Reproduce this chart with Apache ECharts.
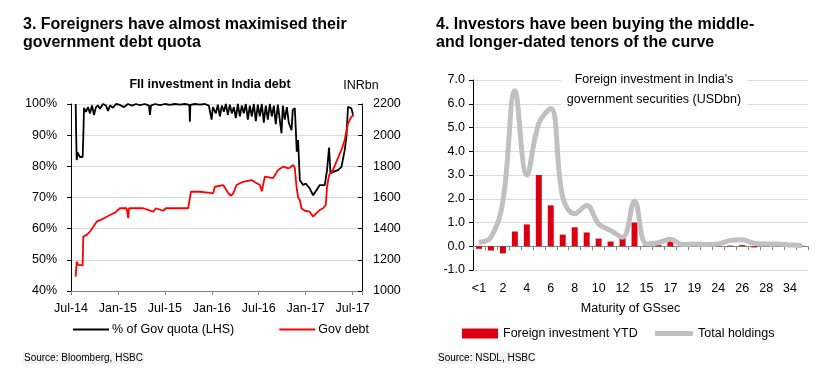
<!DOCTYPE html>
<html>
<head>
<meta charset="utf-8">
<script src="https://cdn.jsdelivr.net/npm/echarts@6/dist/echarts.min.js"></script>
<style>
html,body{margin:0;padding:0;background:#fff;}
#c{width:820px;height:380px;}
</style>
</head>
<body>
<div id="c"></div>
<script>
// ---------- Left chart data (x = months since Jul-2014) ----------
const leftTickLabels = ['Jul-14','Jan-15','Jul-15','Jan-16','Jul-16','Jan-17','Jul-17'];
const quotaPct = [
[0.6,100],[0.66,90],[0.73,82],[0.83,84.5],[0.96,85],[1.15,83],[1.49,83],[1.6,92],[1.66,98.7],
[1.92,97.5],[2.17,99],[2.43,97],[2.68,99.5],[2.94,96.5],[3.19,99],[3.45,99.5],[3.7,98.5],[4.09,100],
[4.47,99.5],[4.73,97.8],[4.98,99.5],[5.36,98.8],[5.75,100],[6.26,99.7],[6.77,99],[7.28,100],[7.79,99.5],
[8.3,100],[8.81,99.6],[9.45,100],[9.96,99.5],[10.09,96.5],[10.22,99.5],[10.73,100],[11.37,99.6],[12.0,100],
[12.64,99.7],[13.28,100],[13.92,99.8],[14.56,100],[15.13,99.7],[15.2,94.3],[15.26,99.7],[15.84,100],
[16.48,99.8],[17.11,100],[17.62,99.5],[17.97,95],[18.14,99],[18.52,97],[18.77,99.8],[19.03,96],[19.28,99.5],
[19.54,97.5],[19.8,100],[20.05,96.5],[20.31,99.8],[20.56,97],[20.82,99],[21.07,95.5],[21.33,100],[21.58,96],
[21.84,99.5],[22.09,97],[22.35,100],[22.61,95],[22.86,99.5],[23.12,96],[23.37,100],[23.63,94.5],[23.88,99.8],
[24.14,96],[24.39,100],[24.65,94],[24.9,99.5],[25.16,95],[25.42,100],[25.67,96],[25.93,99.5],[26.18,93.5],
[26.44,99.8],[26.69,95],[26.91,90.6],[27.08,99.5],[27.33,95],[27.59,99],[27.84,94],[28.19,91.6],[28.35,98],
[28.61,98.7],[28.74,91.6],[28.86,84.7],[29.03,88.4],[29.25,75.6],[29.67,74],[30.01,74.5],[30.52,72.9],
[30.95,70.7],[31.38,72.3],[31.8,74],[32.44,74],[32.73,78.8],[32.99,86],[33.17,77.7],[33.5,78.2],[34.14,78.8],
[34.57,79.8],[34.99,85.2],[35.21,89.5],[35.41,99.1],[35.85,98.6],[36.05,96.5]
];
const govDebt = [
[0.6,1092],[0.73,1188],[0.93,1167],[1.49,1165],[1.57,1349],[2.01,1360],[2.43,1381],[2.85,1413],[3.28,1445],
[3.92,1460],[4.34,1470],[4.98,1488],[5.62,1503],[6.26,1531],[7.11,1531],[7.32,1467],[7.41,1531],[9.23,1531],
[9.83,1520],[10.51,1509],[10.86,1531],[11.79,1515],[12.13,1531],[14.98,1531],[15.33,1637],[16.48,1637],
[17.75,1630],[18.17,1627],[18.39,1669],[19.45,1680],[20.09,1630],[20.43,1610],[20.73,1625],[21.16,1680],
[22.0,1701],[23.08,1712],[23.63,1695],[24.14,1680],[24.39,1640],[24.78,1734],[25.84,1725],[26.48,1777],
[27.11,1798],[27.71,1789],[27.97,1790],[28.39,1809],[28.61,1790],[28.83,1669],[29.03,1600],[29.25,1584],
[29.46,1531],[29.89,1515],[30.52,1509],[30.73,1509],[30.95,1477],[31.38,1500],[31.8,1520],[32.22,1531],
[32.44,1535],[32.57,1552],[32.73,1669],[32.99,1744],[33.5,1777],[33.93,1830],[34.14,1840],[34.57,1905],
[34.99,1969],[35.41,2076],[35.85,2119],[36.14,2125]
];

// ---------- Right chart data ----------
const maturities = ['<1','1','2','3','4','5','6','7','8','9','10','11','12','13','15','16','17','18','19','20','24','25','26','27','28','30','34','35'];
const foreignYTD = [-0.11,-0.18,-0.3,0.62,0.92,3.0,1.72,0.49,0.8,0.58,0.32,0.2,0.34,1.0,0.03,0.05,0.21,0.01,0.02,0.01,0.01,0.03,0.05,-0.05,0.01,0.01,0.01,0.02];
const totalHoldings = [0.17,0.38,1.9,6.55,3.0,5.17,5.8,2.07,1.37,1.72,0.94,0.66,0.38,1.9,0.1,0.15,0.3,0.07,0.1,0.07,0.1,0.24,0.27,0.13,0.1,0.1,0.05,0.03];

const FONT = '"Liberation Sans", Arial, sans-serif';
const chart = echarts.init(document.getElementById('c'), null, {renderer:'canvas'});

function txt(text, x, y, size, opts) {
  opts = opts || {};
  return {
    type: 'text', x: x, y: y, silent: true, z: 100,
    style: {
      text: text,
      font: (opts.bold ? 'bold ' : '') + size + 'px ' + FONT,
      fill: opts.color || '#000',
      align: opts.align || 'left',
      verticalAlign: opts.va || 'middle',
      lineHeight: opts.lh,
      backgroundColor: opts.bg,
      padding: opts.pad
    }
  };
}

const option = {
  animation: false,
  textStyle: {fontFamily: FONT},
  grid: [
    {left: 71, top: 104, width: 291, height: 187},
    {left: 473, top: 80, width: 335, height: 190}
  ],
  legend: [
    {
      left: 68, top: 318, itemWidth: 36, itemHeight: 2, itemGap: 45, icon: 'rect',
      textStyle: {fontSize: 12.5, color: '#000', fontFamily: FONT, padding: [0,0,0,-2]},
      data: ['% of Gov quota (LHS)', 'Gov debt']
    },
    {
      left: 457, top: 322, itemWidth: 36, itemHeight: 10, icon: 'rect',
      textStyle: {fontSize: 12.5, color: '#000', fontFamily: FONT},
      data: ['Foreign investment YTD']
    },
    {
      left: 650, top: 322, itemWidth: 38, itemHeight: 5, icon: 'rect',
      textStyle: {fontSize: 12.5, color: '#000', fontFamily: FONT},
      data: ['Total holdings']
    }
  ],
  xAxis: [
    {
      type: 'value', gridIndex: 0, min: 0, max: 37.2, interval: 6,
      axisLine: {show: true, onZero: false, lineStyle: {color: '#868686', width: 1}},
      axisTick: {show: true, length: 4, lineStyle: {color: '#868686'}},
      splitLine: {show: false},
      axisLabel: {
        fontSize: 12.5, color: '#000', margin: 11, fontFamily: FONT,
        formatter: function (v) {
          return (Math.abs(v % 6) < 1e-6 && leftTickLabels[v / 6] !== undefined) ? leftTickLabels[v / 6] : '';
        }
      }
    },
    {
      type: 'category', gridIndex: 1, data: maturities, position: 'bottom',
      axisLine: {show: true, onZero: true, lineStyle: {color: '#868686', width: 1}},
      axisTick: {show: true, interval: 0, length: 4, lineStyle: {color: '#868686'}},
      axisLabel: {show: false}
    },
    {
      type: 'category', gridIndex: 1, data: maturities, position: 'bottom',
      axisLine: {show: false, onZero: false},
      axisTick: {show: false},
      axisLabel: {show: true, interval: 1, fontSize: 12.5, color: '#000', margin: 12, fontFamily: FONT},
      name: 'Maturity of GSsec', nameLocation: 'middle', nameGap: 32,
      nameTextStyle: {fontSize: 12.5, color: '#000', fontFamily: FONT, padding: [0, 20, 0, 0]}
    }
  ],
  yAxis: [
    {
      type: 'value', gridIndex: 0, min: 40, max: 100, interval: 10,
      axisLine: {show: true, lineStyle: {color: '#000', width: 1}},
      axisTick: {show: true, length: 4, lineStyle: {color: '#000'}},
      splitLine: {show: true, lineStyle: {color: '#d9d9d9', width: 1}},
      axisLabel: {fontSize: 12.5, color: '#000', margin: 14, fontFamily: FONT, formatter: '{value}%'}
    },
    {
      type: 'value', gridIndex: 0, min: 1000, max: 2200, interval: 200, position: 'right',
      axisLine: {show: true, lineStyle: {color: '#000', width: 1}},
      axisTick: {show: true, length: 4, inside: true, lineStyle: {color: '#000'}},
      splitLine: {show: false},
      axisLabel: {fontSize: 12.5, color: '#000', margin: 11, fontFamily: FONT,
        formatter: function (v) { return String(v); }}
    },
    {
      type: 'value', gridIndex: 1, min: -1, max: 7, interval: 1,
      axisLine: {show: true, lineStyle: {color: '#000', width: 1}},
      axisTick: {show: true, length: 4, lineStyle: {color: '#000'}},
      splitLine: {show: true, lineStyle: {color: '#d9d9d9', width: 1}},
      axisLabel: {fontSize: 12.5, color: '#000', margin: 8, fontFamily: FONT,
        formatter: function (v) { return v.toFixed(1); }}
    }
  ],
  series: [
    {
      name: '% of Gov quota (LHS)', type: 'line', xAxisIndex: 0, yAxisIndex: 0,
      data: quotaPct, showSymbol: false, symbol: 'none',
      lineStyle: {color: '#000', width: 1.8}, itemStyle: {color: '#000'}
    },
    {
      name: 'Gov debt', type: 'line', xAxisIndex: 0, yAxisIndex: 1,
      data: govDebt, showSymbol: false, symbol: 'none',
      lineStyle: {color: '#ff0000', width: 1.8}, itemStyle: {color: '#ff0000'}
    },
    {
      name: 'Foreign investment YTD', type: 'bar', xAxisIndex: 1, yAxisIndex: 2,
      data: foreignYTD, barWidth: '50%', itemStyle: {color: '#db0011'}
    },
    {
      name: 'Total holdings', type: 'line', xAxisIndex: 1, yAxisIndex: 2,
      data: totalHoldings, smooth: 0.4, showSymbol: false, symbol: 'none',
      lineStyle: {color: '#c0c0c0', width: 5}, itemStyle: {color: '#c0c0c0'}
    }
  ],
  graphic: [
    txt('3. Foreigners have almost maximised their', 23, 24.5, 16, {bold: true}),
    txt('government debt quota', 23, 43, 16, {bold: true}),
    txt('4. Investors have been buying the middle-', 436, 24.5, 16, {bold: true}),
    txt('and longer-dated tenors of the curve', 436, 43, 16, {bold: true}),
    txt('FII investment in India debt', 210, 85, 12.5, {bold: true, align: 'center'}),
    txt('INRbn', 361, 86, 12.5, {align: 'center'}),
    txt("Foreign investment in India's\ngovernment securities (USDbn)", 654, 90, 12.5,
        {align: 'center', lh: 20, bg: '#ffffff', pad: [2, 6, 2, 6]}),
    txt('Source: Bloomberg, HSBC', 23, 358, 10, {bg: '#f3f3f3', pad: [1, 1]}),
    txt('Source: NSDL, HSBC', 437, 358, 10, {bg: '#f3f3f3', pad: [1, 1]})
  ]
};
chart.setOption(option);
</script>
</body>
</html>
